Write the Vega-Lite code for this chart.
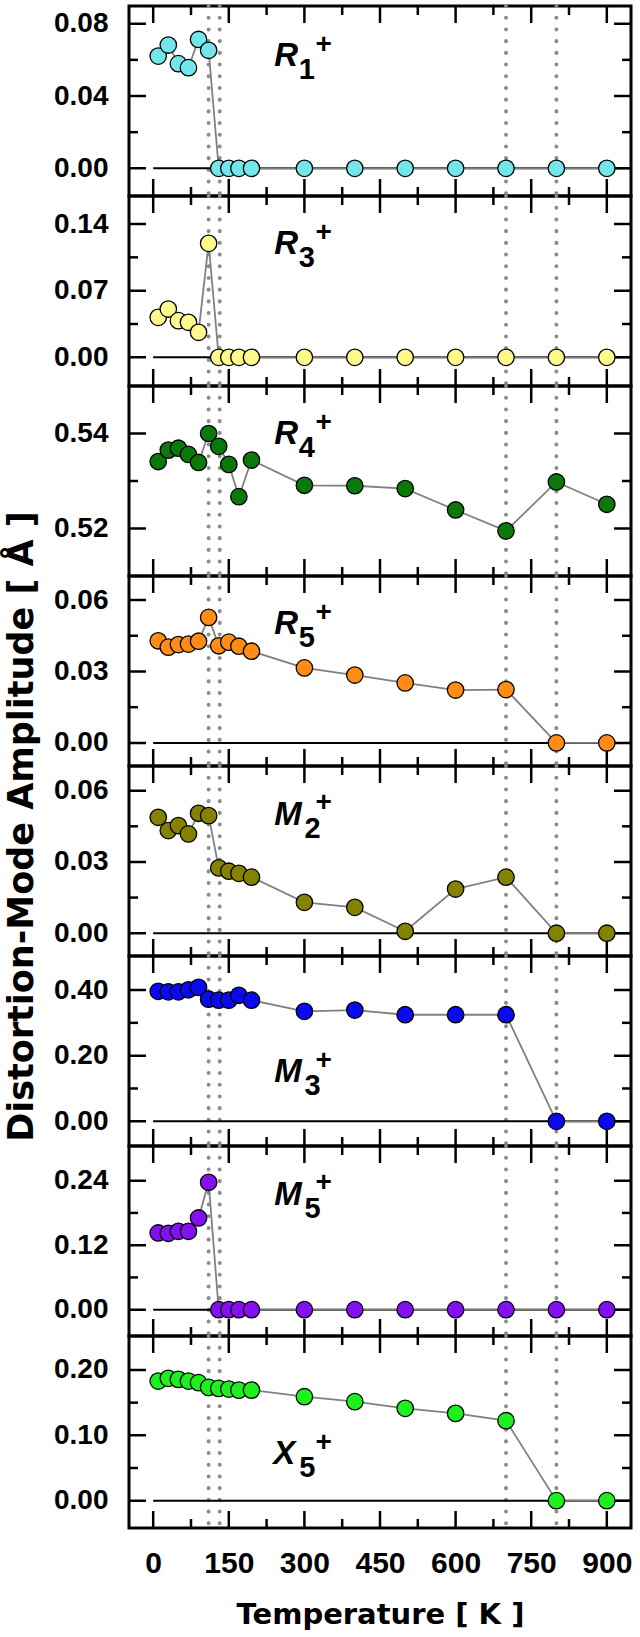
{
  "$schema": "https://vega.github.io/schema/vega-lite/v6.json",
  "padding": {"left": 5, "top": 2, "right": 4, "bottom": 0},
  "title": {"text": "Distortion-Mode Amplitude  [ Å ]", "orient": "left", "anchor": "middle", "fontSize": 35, "font": "DejaVu Sans", "fontWeight": "bold", "color": "black", "offset": 12, "dx": -10},
  "spacing": 0,
  "bounds": "flush",
  "config": {
    "font": "Liberation Sans",
    "view": {"stroke": "black", "strokeWidth": 3},
    "axis": {"domain": false, "ticks": false, "tickSize": 0, "grid": false, "labelFont": "Liberation Sans", "labelFontWeight": "bold", "labelColor": "black", "labelFontSize": 28, "titleFont": "DejaVu Sans", "titleFontWeight": "bold", "titleColor": "black", "titleFontSize": 29, "labelFlush": false, "labelOverlap": false}
  },
  "datasets": {
    "transitions": [{"T": 110}, {"T": 132}, {"T": 700}, {"T": 800}],
    "xticks": [{"T": 0, "kind": "major"}, {"T": 75, "kind": "minor"}, {"T": 150, "kind": "major"}, {"T": 225, "kind": "minor"}, {"T": 300, "kind": "major"}, {"T": 375, "kind": "minor"}, {"T": 450, "kind": "major"}, {"T": 525, "kind": "minor"}, {"T": 600, "kind": "major"}, {"T": 675, "kind": "minor"}, {"T": 750, "kind": "major"}, {"T": 825, "kind": "minor"}, {"T": 900, "kind": "major"}],
    "yticks": [
      {"panel": "R1", "amp": 0, "kind": "major"}, {"panel": "R1", "amp": 0.02, "kind": "minor"}, {"panel": "R1", "amp": 0.04, "kind": "major"}, {"panel": "R1", "amp": 0.06, "kind": "minor"}, {"panel": "R1", "amp": 0.08, "kind": "major"},
      {"panel": "R3", "amp": 0, "kind": "major"}, {"panel": "R3", "amp": 0.035, "kind": "minor"}, {"panel": "R3", "amp": 0.07, "kind": "major"}, {"panel": "R3", "amp": 0.105, "kind": "minor"}, {"panel": "R3", "amp": 0.14, "kind": "major"},
      {"panel": "R4", "amp": 0.52, "kind": "major"}, {"panel": "R4", "amp": 0.53, "kind": "minor"}, {"panel": "R4", "amp": 0.54, "kind": "major"},
      {"panel": "R5", "amp": 0, "kind": "major"}, {"panel": "R5", "amp": 0.015, "kind": "minor"}, {"panel": "R5", "amp": 0.03, "kind": "major"}, {"panel": "R5", "amp": 0.045, "kind": "minor"}, {"panel": "R5", "amp": 0.06, "kind": "major"},
      {"panel": "M2", "amp": 0, "kind": "major"}, {"panel": "M2", "amp": 0.015, "kind": "minor"}, {"panel": "M2", "amp": 0.03, "kind": "major"}, {"panel": "M2", "amp": 0.045, "kind": "minor"}, {"panel": "M2", "amp": 0.06, "kind": "major"},
      {"panel": "M3", "amp": 0, "kind": "major"}, {"panel": "M3", "amp": 0.1, "kind": "minor"}, {"panel": "M3", "amp": 0.2, "kind": "major"}, {"panel": "M3", "amp": 0.3, "kind": "minor"}, {"panel": "M3", "amp": 0.4, "kind": "major"},
      {"panel": "M5", "amp": 0, "kind": "major"}, {"panel": "M5", "amp": 0.06, "kind": "minor"}, {"panel": "M5", "amp": 0.12, "kind": "major"}, {"panel": "M5", "amp": 0.18, "kind": "minor"}, {"panel": "M5", "amp": 0.24, "kind": "major"},
      {"panel": "X5", "amp": 0, "kind": "major"}, {"panel": "X5", "amp": 0.05, "kind": "minor"}, {"panel": "X5", "amp": 0.1, "kind": "major"}, {"panel": "X5", "amp": 0.15, "kind": "minor"}, {"panel": "X5", "amp": 0.2, "kind": "major"}
    ],
    "modes": [
      {"mode": "R1", "T": 10, "amp": 0.0621}, {"mode": "R1", "T": 30, "amp": 0.0682}, {"mode": "R1", "T": 50, "amp": 0.0579}, {"mode": "R1", "T": 70, "amp": 0.0557}, {"mode": "R1", "T": 90, "amp": 0.0713}, {"mode": "R1", "T": 110, "amp": 0.0653}, {"mode": "R1", "T": 130, "amp": 0}, {"mode": "R1", "T": 150, "amp": 0}, {"mode": "R1", "T": 170, "amp": 0}, {"mode": "R1", "T": 195, "amp": 0}, {"mode": "R1", "T": 300, "amp": 0}, {"mode": "R1", "T": 400, "amp": 0}, {"mode": "R1", "T": 500, "amp": 0}, {"mode": "R1", "T": 600, "amp": 0}, {"mode": "R1", "T": 700, "amp": 0}, {"mode": "R1", "T": 800, "amp": 0}, {"mode": "R1", "T": 900, "amp": 0},
      {"mode": "R3", "T": 10, "amp": 0.042}, {"mode": "R3", "T": 30, "amp": 0.0507}, {"mode": "R3", "T": 50, "amp": 0.0385}, {"mode": "R3", "T": 70, "amp": 0.0368}, {"mode": "R3", "T": 90, "amp": 0.0263}, {"mode": "R3", "T": 110, "amp": 0.1197}, {"mode": "R3", "T": 130, "amp": 0}, {"mode": "R3", "T": 150, "amp": 0}, {"mode": "R3", "T": 170, "amp": 0}, {"mode": "R3", "T": 195, "amp": 0}, {"mode": "R3", "T": 300, "amp": 0}, {"mode": "R3", "T": 400, "amp": 0}, {"mode": "R3", "T": 500, "amp": 0}, {"mode": "R3", "T": 600, "amp": 0}, {"mode": "R3", "T": 700, "amp": 0}, {"mode": "R3", "T": 800, "amp": 0}, {"mode": "R3", "T": 900, "amp": 0},
      {"mode": "R4", "T": 10, "amp": 0.5341}, {"mode": "R4", "T": 30, "amp": 0.5365}, {"mode": "R4", "T": 50, "amp": 0.5369}, {"mode": "R4", "T": 70, "amp": 0.5356}, {"mode": "R4", "T": 90, "amp": 0.5339}, {"mode": "R4", "T": 110, "amp": 0.54}, {"mode": "R4", "T": 130, "amp": 0.5373}, {"mode": "R4", "T": 150, "amp": 0.5335}, {"mode": "R4", "T": 170, "amp": 0.5267}, {"mode": "R4", "T": 195, "amp": 0.5344}, {"mode": "R4", "T": 300, "amp": 0.5291}, {"mode": "R4", "T": 400, "amp": 0.529}, {"mode": "R4", "T": 500, "amp": 0.5284}, {"mode": "R4", "T": 600, "amp": 0.5239}, {"mode": "R4", "T": 700, "amp": 0.5195}, {"mode": "R4", "T": 800, "amp": 0.5298}, {"mode": "R4", "T": 900, "amp": 0.5251},
      {"mode": "R5", "T": 10, "amp": 0.0429}, {"mode": "R5", "T": 30, "amp": 0.0402}, {"mode": "R5", "T": 50, "amp": 0.0413}, {"mode": "R5", "T": 70, "amp": 0.0415}, {"mode": "R5", "T": 90, "amp": 0.0427}, {"mode": "R5", "T": 110, "amp": 0.0527}, {"mode": "R5", "T": 130, "amp": 0.0408}, {"mode": "R5", "T": 150, "amp": 0.0423}, {"mode": "R5", "T": 170, "amp": 0.0406}, {"mode": "R5", "T": 195, "amp": 0.0385}, {"mode": "R5", "T": 300, "amp": 0.0315}, {"mode": "R5", "T": 400, "amp": 0.0285}, {"mode": "R5", "T": 500, "amp": 0.0252}, {"mode": "R5", "T": 600, "amp": 0.0222}, {"mode": "R5", "T": 700, "amp": 0.0224}, {"mode": "R5", "T": 800, "amp": 0}, {"mode": "R5", "T": 900, "amp": 0},
      {"mode": "M2", "T": 10, "amp": 0.0488}, {"mode": "M2", "T": 30, "amp": 0.0432}, {"mode": "M2", "T": 50, "amp": 0.0453}, {"mode": "M2", "T": 70, "amp": 0.0418}, {"mode": "M2", "T": 90, "amp": 0.0505}, {"mode": "M2", "T": 110, "amp": 0.0495}, {"mode": "M2", "T": 130, "amp": 0.0275}, {"mode": "M2", "T": 150, "amp": 0.0261}, {"mode": "M2", "T": 170, "amp": 0.0252}, {"mode": "M2", "T": 195, "amp": 0.0236}, {"mode": "M2", "T": 300, "amp": 0.013}, {"mode": "M2", "T": 400, "amp": 0.0109}, {"mode": "M2", "T": 500, "amp": 0.0008}, {"mode": "M2", "T": 600, "amp": 0.0186}, {"mode": "M2", "T": 700, "amp": 0.0236}, {"mode": "M2", "T": 800, "amp": 0}, {"mode": "M2", "T": 900, "amp": 0},
      {"mode": "M3", "T": 10, "amp": 0.396}, {"mode": "M3", "T": 30, "amp": 0.3945}, {"mode": "M3", "T": 50, "amp": 0.3945}, {"mode": "M3", "T": 70, "amp": 0.4006}, {"mode": "M3", "T": 90, "amp": 0.408}, {"mode": "M3", "T": 110, "amp": 0.372}, {"mode": "M3", "T": 130, "amp": 0.369}, {"mode": "M3", "T": 150, "amp": 0.369}, {"mode": "M3", "T": 170, "amp": 0.384}, {"mode": "M3", "T": 195, "amp": 0.369}, {"mode": "M3", "T": 300, "amp": 0.335}, {"mode": "M3", "T": 400, "amp": 0.339}, {"mode": "M3", "T": 500, "amp": 0.3247}, {"mode": "M3", "T": 600, "amp": 0.3247}, {"mode": "M3", "T": 700, "amp": 0.3247}, {"mode": "M3", "T": 800, "amp": 0}, {"mode": "M3", "T": 900, "amp": 0},
      {"mode": "M5", "T": 10, "amp": 0.1427}, {"mode": "M5", "T": 30, "amp": 0.1421}, {"mode": "M5", "T": 50, "amp": 0.1458}, {"mode": "M5", "T": 70, "amp": 0.1458}, {"mode": "M5", "T": 90, "amp": 0.1706}, {"mode": "M5", "T": 110, "amp": 0.237}, {"mode": "M5", "T": 130, "amp": 0}, {"mode": "M5", "T": 150, "amp": 0}, {"mode": "M5", "T": 170, "amp": 0}, {"mode": "M5", "T": 195, "amp": 0}, {"mode": "M5", "T": 300, "amp": 0}, {"mode": "M5", "T": 400, "amp": 0}, {"mode": "M5", "T": 500, "amp": 0}, {"mode": "M5", "T": 600, "amp": 0}, {"mode": "M5", "T": 700, "amp": 0}, {"mode": "M5", "T": 800, "amp": 0}, {"mode": "M5", "T": 900, "amp": 0},
      {"mode": "X5", "T": 10, "amp": 0.183}, {"mode": "X5", "T": 30, "amp": 0.1872}, {"mode": "X5", "T": 50, "amp": 0.1856}, {"mode": "X5", "T": 70, "amp": 0.183}, {"mode": "X5", "T": 90, "amp": 0.1806}, {"mode": "X5", "T": 110, "amp": 0.1734}, {"mode": "X5", "T": 130, "amp": 0.1718}, {"mode": "X5", "T": 150, "amp": 0.1708}, {"mode": "X5", "T": 170, "amp": 0.1692}, {"mode": "X5", "T": 195, "amp": 0.1692}, {"mode": "X5", "T": 300, "amp": 0.1591}, {"mode": "X5", "T": 400, "amp": 0.1515}, {"mode": "X5", "T": 500, "amp": 0.1413}, {"mode": "X5", "T": 600, "amp": 0.1336}, {"mode": "X5", "T": 700, "amp": 0.1224}, {"mode": "X5", "T": 800, "amp": 0}, {"mode": "X5", "T": 900, "amp": 0}
    ]
  },
  "vconcat": [
    {
      "width": 502, "height": 190,
      "resolve": {"axis": {"x": "independent", "y": "independent"}},
      "layer": [
        {"data": {"name": "xticks"}, "mark": {"type": "tick", "orient": "vertical", "thickness": 2.5, "color": "black", "opacity": 1, "clip": true},
         "encoding": {"x": {"field": "T", "type": "quantitative", "scale": {"domain": [-48, 948], "nice": false, "zero": false}, "axis": null}, "y": {"datum": -0.0153, "axis": null}, "size": {"field": "kind", "type": "ordinal", "scale": {"domain": ["major", "minor"], "range": [34, 18]}, "legend": null}}},
        {"data": {"name": "xticks"}, "mark": {"type": "tick", "orient": "vertical", "thickness": 2.5, "color": "black", "opacity": 1, "clip": true},
         "encoding": {"x": {"field": "T", "type": "quantitative", "axis": null}, "y": {"datum": 0.0898, "axis": null}, "size": {"field": "kind", "type": "ordinal", "scale": {"domain": ["major", "minor"], "range": [34, 18]}, "legend": null}}},
        {"data": {"name": "yticks"}, "transform": [{"filter": "datum.panel === 'R1'"}], "mark": {"type": "tick", "orient": "horizontal", "thickness": 2.5, "color": "black", "opacity": 1, "clip": true},
         "encoding": {"y": {"field": "amp", "type": "quantitative", "axis": null}, "x": {"datum": -48, "axis": null}, "size": {"field": "kind", "type": "ordinal", "scale": {"domain": ["major", "minor"], "range": [34, 18]}, "legend": null}}},
        {"data": {"name": "yticks"}, "transform": [{"filter": "datum.panel === 'R1'"}], "mark": {"type": "tick", "orient": "horizontal", "thickness": 2.5, "color": "black", "opacity": 1, "clip": true},
         "encoding": {"y": {"field": "amp", "type": "quantitative", "axis": null}, "x": {"datum": 948, "axis": null}, "size": {"field": "kind", "type": "ordinal", "scale": {"domain": ["major", "minor"], "range": [34, 18]}, "legend": null}}},
        {"data": {"name": "transitions"}, "mark": {"type": "rule", "color": "#8c8c8c", "strokeWidth": 4, "strokeDash": [0.1, 11.6], "strokeCap": "round"},
         "encoding": {"x": {"field": "T", "type": "quantitative", "axis": null}}},
        {"data": {"values": [{}]}, "mark": {"type": "rule", "color": "black", "strokeWidth": 2},
         "encoding": {"x": {"datum": 0, "axis": null}, "x2": {"datum": 948}, "y": {"datum": 0, "axis": null}}},
        {"data": {"name": "modes"}, "transform": [{"filter": "datum.mode === 'R1'"}], "mark": {"type": "line", "color": "#808080", "strokeWidth": 1.8},
         "encoding": {"x": {"field": "T", "type": "quantitative", "axis": null}, "y": {"field": "amp", "type": "quantitative", "scale": {"domain": [-0.0153, 0.0898], "nice": false, "zero": false}, "axis": null}}},
        {"data": {"name": "modes"}, "transform": [{"filter": "datum.mode === 'R1'"}], "mark": {"type": "circle", "size": 270, "fill": "#73E6EB", "fillOpacity": 1, "opacity": 1, "stroke": "black", "strokeWidth": 1.3},
         "encoding": {"x": {"field": "T", "type": "quantitative", "axis": null},
                      "y": {"field": "amp", "type": "quantitative", "axis": {"orient": "left", "values": [0, 0.04, 0.08], "format": ".2f", "labelPadding": 21, "title": null}}}},
        {"data": {"values": [{}]}, "mark": {"type": "text", "text": "R", "fontSize": 33, "fontWeight": "bold", "fontStyle": "italic", "align": "left", "baseline": "alphabetic", "color": "black"},
         "encoding": {"x": {"datum": 240, "axis": null}, "y": {"datum": 0.0566, "axis": null}}},
        {"data": {"values": [{}]}, "mark": {"type": "text", "text": "1", "fontSize": 29, "fontWeight": "bold", "align": "left", "baseline": "alphabetic", "dy": 13, "color": "black"},
         "encoding": {"x": {"datum": 289, "axis": null}, "y": {"datum": 0.0566, "axis": null}}},
        {"data": {"values": [{}]}, "mark": {"type": "text", "text": "+", "fontSize": 28, "fontWeight": "bold", "align": "left", "baseline": "alphabetic", "dy": -13.5, "color": "black"},
         "encoding": {"x": {"datum": 322, "axis": null}, "y": {"datum": 0.0566, "axis": null}}}
      ]
    },
    {
      "width": 502, "height": 190,
      "resolve": {"axis": {"x": "independent", "y": "independent"}},
      "layer": [
        {"data": {"name": "xticks"}, "mark": {"type": "tick", "orient": "vertical", "thickness": 2.5, "color": "black", "opacity": 1, "clip": true},
         "encoding": {"x": {"field": "T", "type": "quantitative", "scale": {"domain": [-48, 948], "nice": false, "zero": false}, "axis": null}, "y": {"datum": -0.0301, "axis": null}, "size": {"field": "kind", "type": "ordinal", "scale": {"domain": ["major", "minor"], "range": [34, 18]}, "legend": null}}},
        {"data": {"name": "xticks"}, "mark": {"type": "tick", "orient": "vertical", "thickness": 2.5, "color": "black", "opacity": 1, "clip": true},
         "encoding": {"x": {"field": "T", "type": "quantitative", "axis": null}, "y": {"datum": 0.1694, "axis": null}, "size": {"field": "kind", "type": "ordinal", "scale": {"domain": ["major", "minor"], "range": [34, 18]}, "legend": null}}},
        {"data": {"name": "yticks"}, "transform": [{"filter": "datum.panel === 'R3'"}], "mark": {"type": "tick", "orient": "horizontal", "thickness": 2.5, "color": "black", "opacity": 1, "clip": true},
         "encoding": {"y": {"field": "amp", "type": "quantitative", "axis": null}, "x": {"datum": -48, "axis": null}, "size": {"field": "kind", "type": "ordinal", "scale": {"domain": ["major", "minor"], "range": [34, 18]}, "legend": null}}},
        {"data": {"name": "yticks"}, "transform": [{"filter": "datum.panel === 'R3'"}], "mark": {"type": "tick", "orient": "horizontal", "thickness": 2.5, "color": "black", "opacity": 1, "clip": true},
         "encoding": {"y": {"field": "amp", "type": "quantitative", "axis": null}, "x": {"datum": 948, "axis": null}, "size": {"field": "kind", "type": "ordinal", "scale": {"domain": ["major", "minor"], "range": [34, 18]}, "legend": null}}},
        {"data": {"name": "transitions"}, "mark": {"type": "rule", "color": "#8c8c8c", "strokeWidth": 4, "strokeDash": [0.1, 11.6], "strokeCap": "round"},
         "encoding": {"x": {"field": "T", "type": "quantitative", "axis": null}}},
        {"data": {"values": [{}]}, "mark": {"type": "rule", "color": "black", "strokeWidth": 2},
         "encoding": {"x": {"datum": 0, "axis": null}, "x2": {"datum": 948}, "y": {"datum": 0, "axis": null}}},
        {"data": {"name": "modes"}, "transform": [{"filter": "datum.mode === 'R3'"}], "mark": {"type": "line", "color": "#808080", "strokeWidth": 1.8},
         "encoding": {"x": {"field": "T", "type": "quantitative", "axis": null}, "y": {"field": "amp", "type": "quantitative", "scale": {"domain": [-0.0301, 0.1694], "nice": false, "zero": false}, "axis": null}}},
        {"data": {"name": "modes"}, "transform": [{"filter": "datum.mode === 'R3'"}], "mark": {"type": "circle", "size": 270, "fill": "#FFF98C", "fillOpacity": 1, "opacity": 1, "stroke": "black", "strokeWidth": 1.3},
         "encoding": {"x": {"field": "T", "type": "quantitative", "axis": null},
                      "y": {"field": "amp", "type": "quantitative", "axis": {"orient": "left", "values": [0, 0.07, 0.14], "format": ".2f", "labelPadding": 21, "title": null}}}},
        {"data": {"values": [{}]}, "mark": {"type": "text", "text": "R", "fontSize": 33, "fontWeight": "bold", "fontStyle": "italic", "align": "left", "baseline": "alphabetic", "color": "black"},
         "encoding": {"x": {"datum": 240, "axis": null}, "y": {"datum": 0.1085, "axis": null}}},
        {"data": {"values": [{}]}, "mark": {"type": "text", "text": "3", "fontSize": 29, "fontWeight": "bold", "align": "left", "baseline": "alphabetic", "dy": 13, "color": "black"},
         "encoding": {"x": {"datum": 289, "axis": null}, "y": {"datum": 0.1085, "axis": null}}},
        {"data": {"values": [{}]}, "mark": {"type": "text", "text": "+", "fontSize": 28, "fontWeight": "bold", "align": "left", "baseline": "alphabetic", "dy": -13.5, "color": "black"},
         "encoding": {"x": {"datum": 322, "axis": null}, "y": {"datum": 0.1085, "axis": null}}}
      ]
    },
    {
      "width": 502, "height": 190,
      "resolve": {"axis": {"x": "independent", "y": "independent"}},
      "layer": [
        {"data": {"name": "xticks"}, "mark": {"type": "tick", "orient": "vertical", "thickness": 2.5, "color": "black", "opacity": 1, "clip": true},
         "encoding": {"x": {"field": "T", "type": "quantitative", "scale": {"domain": [-48, 948], "nice": false, "zero": false}, "axis": null}, "y": {"datum": 0.51, "axis": null}, "size": {"field": "kind", "type": "ordinal", "scale": {"domain": ["major", "minor"], "range": [34, 18]}, "legend": null}}},
        {"data": {"name": "xticks"}, "mark": {"type": "tick", "orient": "vertical", "thickness": 2.5, "color": "black", "opacity": 1, "clip": true},
         "encoding": {"x": {"field": "T", "type": "quantitative", "axis": null}, "y": {"datum": 0.55, "axis": null}, "size": {"field": "kind", "type": "ordinal", "scale": {"domain": ["major", "minor"], "range": [34, 18]}, "legend": null}}},
        {"data": {"name": "yticks"}, "transform": [{"filter": "datum.panel === 'R4'"}], "mark": {"type": "tick", "orient": "horizontal", "thickness": 2.5, "color": "black", "opacity": 1, "clip": true},
         "encoding": {"y": {"field": "amp", "type": "quantitative", "axis": null}, "x": {"datum": -48, "axis": null}, "size": {"field": "kind", "type": "ordinal", "scale": {"domain": ["major", "minor"], "range": [34, 18]}, "legend": null}}},
        {"data": {"name": "yticks"}, "transform": [{"filter": "datum.panel === 'R4'"}], "mark": {"type": "tick", "orient": "horizontal", "thickness": 2.5, "color": "black", "opacity": 1, "clip": true},
         "encoding": {"y": {"field": "amp", "type": "quantitative", "axis": null}, "x": {"datum": 948, "axis": null}, "size": {"field": "kind", "type": "ordinal", "scale": {"domain": ["major", "minor"], "range": [34, 18]}, "legend": null}}},
        {"data": {"name": "transitions"}, "mark": {"type": "rule", "color": "#8c8c8c", "strokeWidth": 4, "strokeDash": [0.1, 11.6], "strokeCap": "round"},
         "encoding": {"x": {"field": "T", "type": "quantitative", "axis": null}}},
        {"data": {"name": "modes"}, "transform": [{"filter": "datum.mode === 'R4'"}], "mark": {"type": "line", "color": "#808080", "strokeWidth": 1.8},
         "encoding": {"x": {"field": "T", "type": "quantitative", "axis": null}, "y": {"field": "amp", "type": "quantitative", "scale": {"domain": [0.51, 0.55], "nice": false, "zero": false}, "axis": null}}},
        {"data": {"name": "modes"}, "transform": [{"filter": "datum.mode === 'R4'"}], "mark": {"type": "circle", "size": 270, "fill": "#0A780A", "fillOpacity": 1, "opacity": 1, "stroke": "black", "strokeWidth": 1.3},
         "encoding": {"x": {"field": "T", "type": "quantitative", "axis": null},
                      "y": {"field": "amp", "type": "quantitative", "axis": {"orient": "left", "values": [0.52, 0.54], "format": ".2f", "labelPadding": 21, "title": null}}}},
        {"data": {"values": [{}]}, "mark": {"type": "text", "text": "R", "fontSize": 33, "fontWeight": "bold", "fontStyle": "italic", "align": "left", "baseline": "alphabetic", "color": "black"},
         "encoding": {"x": {"datum": 240, "axis": null}, "y": {"datum": 0.5377, "axis": null}}},
        {"data": {"values": [{}]}, "mark": {"type": "text", "text": "4", "fontSize": 29, "fontWeight": "bold", "align": "left", "baseline": "alphabetic", "dy": 13, "color": "black"},
         "encoding": {"x": {"datum": 289, "axis": null}, "y": {"datum": 0.5377, "axis": null}}},
        {"data": {"values": [{}]}, "mark": {"type": "text", "text": "+", "fontSize": 28, "fontWeight": "bold", "align": "left", "baseline": "alphabetic", "dy": -13.5, "color": "black"},
         "encoding": {"x": {"datum": 322, "axis": null}, "y": {"datum": 0.5377, "axis": null}}}
      ]
    },
    {
      "width": 502, "height": 190,
      "resolve": {"axis": {"x": "independent", "y": "independent"}},
      "layer": [
        {"data": {"name": "xticks"}, "mark": {"type": "tick", "orient": "vertical", "thickness": 2.5, "color": "black", "opacity": 1, "clip": true},
         "encoding": {"x": {"field": "T", "type": "quantitative", "scale": {"domain": [-48, 948], "nice": false, "zero": false}, "axis": null}, "y": {"datum": -0.0097, "axis": null}, "size": {"field": "kind", "type": "ordinal", "scale": {"domain": ["major", "minor"], "range": [34, 18]}, "legend": null}}},
        {"data": {"name": "xticks"}, "mark": {"type": "tick", "orient": "vertical", "thickness": 2.5, "color": "black", "opacity": 1, "clip": true},
         "encoding": {"x": {"field": "T", "type": "quantitative", "axis": null}, "y": {"datum": 0.0701, "axis": null}, "size": {"field": "kind", "type": "ordinal", "scale": {"domain": ["major", "minor"], "range": [34, 18]}, "legend": null}}},
        {"data": {"name": "yticks"}, "transform": [{"filter": "datum.panel === 'R5'"}], "mark": {"type": "tick", "orient": "horizontal", "thickness": 2.5, "color": "black", "opacity": 1, "clip": true},
         "encoding": {"y": {"field": "amp", "type": "quantitative", "axis": null}, "x": {"datum": -48, "axis": null}, "size": {"field": "kind", "type": "ordinal", "scale": {"domain": ["major", "minor"], "range": [34, 18]}, "legend": null}}},
        {"data": {"name": "yticks"}, "transform": [{"filter": "datum.panel === 'R5'"}], "mark": {"type": "tick", "orient": "horizontal", "thickness": 2.5, "color": "black", "opacity": 1, "clip": true},
         "encoding": {"y": {"field": "amp", "type": "quantitative", "axis": null}, "x": {"datum": 948, "axis": null}, "size": {"field": "kind", "type": "ordinal", "scale": {"domain": ["major", "minor"], "range": [34, 18]}, "legend": null}}},
        {"data": {"name": "transitions"}, "mark": {"type": "rule", "color": "#8c8c8c", "strokeWidth": 4, "strokeDash": [0.1, 11.6], "strokeCap": "round"},
         "encoding": {"x": {"field": "T", "type": "quantitative", "axis": null}}},
        {"data": {"values": [{}]}, "mark": {"type": "rule", "color": "black", "strokeWidth": 2},
         "encoding": {"x": {"datum": 0, "axis": null}, "x2": {"datum": 948}, "y": {"datum": 0, "axis": null}}},
        {"data": {"name": "modes"}, "transform": [{"filter": "datum.mode === 'R5'"}], "mark": {"type": "line", "color": "#808080", "strokeWidth": 1.8},
         "encoding": {"x": {"field": "T", "type": "quantitative", "axis": null}, "y": {"field": "amp", "type": "quantitative", "scale": {"domain": [-0.0097, 0.0701], "nice": false, "zero": false}, "axis": null}}},
        {"data": {"name": "modes"}, "transform": [{"filter": "datum.mode === 'R5'"}], "mark": {"type": "circle", "size": 270, "fill": "#FF8C14", "fillOpacity": 1, "opacity": 1, "stroke": "black", "strokeWidth": 1.3},
         "encoding": {"x": {"field": "T", "type": "quantitative", "axis": null},
                      "y": {"field": "amp", "type": "quantitative", "axis": {"orient": "left", "values": [0, 0.03, 0.06], "format": ".2f", "labelPadding": 21, "title": null}}}},
        {"data": {"values": [{}]}, "mark": {"type": "text", "text": "R", "fontSize": 33, "fontWeight": "bold", "fontStyle": "italic", "align": "left", "baseline": "alphabetic", "color": "black"},
         "encoding": {"x": {"datum": 240, "axis": null}, "y": {"datum": 0.0457, "axis": null}}},
        {"data": {"values": [{}]}, "mark": {"type": "text", "text": "5", "fontSize": 29, "fontWeight": "bold", "align": "left", "baseline": "alphabetic", "dy": 13, "color": "black"},
         "encoding": {"x": {"datum": 289, "axis": null}, "y": {"datum": 0.0457, "axis": null}}},
        {"data": {"values": [{}]}, "mark": {"type": "text", "text": "+", "fontSize": 28, "fontWeight": "bold", "align": "left", "baseline": "alphabetic", "dy": -13.5, "color": "black"},
         "encoding": {"x": {"datum": 322, "axis": null}, "y": {"datum": 0.0457, "axis": null}}}
      ]
    },
    {
      "width": 502, "height": 190,
      "resolve": {"axis": {"x": "independent", "y": "independent"}},
      "layer": [
        {"data": {"name": "xticks"}, "mark": {"type": "tick", "orient": "vertical", "thickness": 2.5, "color": "black", "opacity": 1, "clip": true},
         "encoding": {"x": {"field": "T", "type": "quantitative", "scale": {"domain": [-48, 948], "nice": false, "zero": false}, "axis": null}, "y": {"datum": -0.0096, "axis": null}, "size": {"field": "kind", "type": "ordinal", "scale": {"domain": ["major", "minor"], "range": [34, 18]}, "legend": null}}},
        {"data": {"name": "xticks"}, "mark": {"type": "tick", "orient": "vertical", "thickness": 2.5, "color": "black", "opacity": 1, "clip": true},
         "encoding": {"x": {"field": "T", "type": "quantitative", "axis": null}, "y": {"datum": 0.0704, "axis": null}, "size": {"field": "kind", "type": "ordinal", "scale": {"domain": ["major", "minor"], "range": [34, 18]}, "legend": null}}},
        {"data": {"name": "yticks"}, "transform": [{"filter": "datum.panel === 'M2'"}], "mark": {"type": "tick", "orient": "horizontal", "thickness": 2.5, "color": "black", "opacity": 1, "clip": true},
         "encoding": {"y": {"field": "amp", "type": "quantitative", "axis": null}, "x": {"datum": -48, "axis": null}, "size": {"field": "kind", "type": "ordinal", "scale": {"domain": ["major", "minor"], "range": [34, 18]}, "legend": null}}},
        {"data": {"name": "yticks"}, "transform": [{"filter": "datum.panel === 'M2'"}], "mark": {"type": "tick", "orient": "horizontal", "thickness": 2.5, "color": "black", "opacity": 1, "clip": true},
         "encoding": {"y": {"field": "amp", "type": "quantitative", "axis": null}, "x": {"datum": 948, "axis": null}, "size": {"field": "kind", "type": "ordinal", "scale": {"domain": ["major", "minor"], "range": [34, 18]}, "legend": null}}},
        {"data": {"name": "transitions"}, "mark": {"type": "rule", "color": "#8c8c8c", "strokeWidth": 4, "strokeDash": [0.1, 11.6], "strokeCap": "round"},
         "encoding": {"x": {"field": "T", "type": "quantitative", "axis": null}}},
        {"data": {"values": [{}]}, "mark": {"type": "rule", "color": "black", "strokeWidth": 2},
         "encoding": {"x": {"datum": 0, "axis": null}, "x2": {"datum": 948}, "y": {"datum": 0, "axis": null}}},
        {"data": {"name": "modes"}, "transform": [{"filter": "datum.mode === 'M2'"}], "mark": {"type": "line", "color": "#808080", "strokeWidth": 1.8},
         "encoding": {"x": {"field": "T", "type": "quantitative", "axis": null}, "y": {"field": "amp", "type": "quantitative", "scale": {"domain": [-0.0096, 0.0704], "nice": false, "zero": false}, "axis": null}}},
        {"data": {"name": "modes"}, "transform": [{"filter": "datum.mode === 'M2'"}], "mark": {"type": "circle", "size": 270, "fill": "#858200", "fillOpacity": 1, "opacity": 1, "stroke": "black", "strokeWidth": 1.3},
         "encoding": {"x": {"field": "T", "type": "quantitative", "axis": null},
                      "y": {"field": "amp", "type": "quantitative", "axis": {"orient": "left", "values": [0, 0.03, 0.06], "format": ".2f", "labelPadding": 21, "title": null}}}},
        {"data": {"values": [{}]}, "mark": {"type": "text", "text": "M", "fontSize": 33, "fontWeight": "bold", "fontStyle": "italic", "align": "left", "baseline": "alphabetic", "color": "black"},
         "encoding": {"x": {"datum": 240, "axis": null}, "y": {"datum": 0.0456, "axis": null}}},
        {"data": {"values": [{}]}, "mark": {"type": "text", "text": "2", "fontSize": 29, "fontWeight": "bold", "align": "left", "baseline": "alphabetic", "dy": 13, "color": "black"},
         "encoding": {"x": {"datum": 300, "axis": null}, "y": {"datum": 0.0456, "axis": null}}},
        {"data": {"values": [{}]}, "mark": {"type": "text", "text": "+", "fontSize": 28, "fontWeight": "bold", "align": "left", "baseline": "alphabetic", "dy": -13.5, "color": "black"},
         "encoding": {"x": {"datum": 322, "axis": null}, "y": {"datum": 0.0456, "axis": null}}}
      ]
    },
    {
      "width": 502, "height": 190,
      "resolve": {"axis": {"x": "independent", "y": "independent"}},
      "layer": [
        {"data": {"name": "xticks"}, "mark": {"type": "tick", "orient": "vertical", "thickness": 2.5, "color": "black", "opacity": 1, "clip": true},
         "encoding": {"x": {"field": "T", "type": "quantitative", "scale": {"domain": [-48, 948], "nice": false, "zero": false}, "axis": null}, "y": {"datum": -0.0752, "axis": null}, "size": {"field": "kind", "type": "ordinal", "scale": {"domain": ["major", "minor"], "range": [34, 18]}, "legend": null}}},
        {"data": {"name": "xticks"}, "mark": {"type": "tick", "orient": "vertical", "thickness": 2.5, "color": "black", "opacity": 1, "clip": true},
         "encoding": {"x": {"field": "T", "type": "quantitative", "axis": null}, "y": {"datum": 0.5036, "axis": null}, "size": {"field": "kind", "type": "ordinal", "scale": {"domain": ["major", "minor"], "range": [34, 18]}, "legend": null}}},
        {"data": {"name": "yticks"}, "transform": [{"filter": "datum.panel === 'M3'"}], "mark": {"type": "tick", "orient": "horizontal", "thickness": 2.5, "color": "black", "opacity": 1, "clip": true},
         "encoding": {"y": {"field": "amp", "type": "quantitative", "axis": null}, "x": {"datum": -48, "axis": null}, "size": {"field": "kind", "type": "ordinal", "scale": {"domain": ["major", "minor"], "range": [34, 18]}, "legend": null}}},
        {"data": {"name": "yticks"}, "transform": [{"filter": "datum.panel === 'M3'"}], "mark": {"type": "tick", "orient": "horizontal", "thickness": 2.5, "color": "black", "opacity": 1, "clip": true},
         "encoding": {"y": {"field": "amp", "type": "quantitative", "axis": null}, "x": {"datum": 948, "axis": null}, "size": {"field": "kind", "type": "ordinal", "scale": {"domain": ["major", "minor"], "range": [34, 18]}, "legend": null}}},
        {"data": {"name": "transitions"}, "mark": {"type": "rule", "color": "#8c8c8c", "strokeWidth": 4, "strokeDash": [0.1, 11.6], "strokeCap": "round"},
         "encoding": {"x": {"field": "T", "type": "quantitative", "axis": null}}},
        {"data": {"values": [{}]}, "mark": {"type": "rule", "color": "black", "strokeWidth": 2},
         "encoding": {"x": {"datum": 0, "axis": null}, "x2": {"datum": 948}, "y": {"datum": 0, "axis": null}}},
        {"data": {"name": "modes"}, "transform": [{"filter": "datum.mode === 'M3'"}], "mark": {"type": "line", "color": "#808080", "strokeWidth": 1.8},
         "encoding": {"x": {"field": "T", "type": "quantitative", "axis": null}, "y": {"field": "amp", "type": "quantitative", "scale": {"domain": [-0.0752, 0.5036], "nice": false, "zero": false}, "axis": null}}},
        {"data": {"name": "modes"}, "transform": [{"filter": "datum.mode === 'M3'"}], "mark": {"type": "circle", "size": 270, "fill": "#0A0AF0", "fillOpacity": 1, "opacity": 1, "stroke": "black", "strokeWidth": 1.3},
         "encoding": {"x": {"field": "T", "type": "quantitative", "axis": null},
                      "y": {"field": "amp", "type": "quantitative", "axis": {"orient": "left", "values": [0, 0.2, 0.4], "format": ".2f", "labelPadding": 21, "title": null}}}},
        {"data": {"values": [{}]}, "mark": {"type": "text", "text": "M", "fontSize": 33, "fontWeight": "bold", "fontStyle": "italic", "align": "left", "baseline": "alphabetic", "color": "black"},
         "encoding": {"x": {"datum": 240, "axis": null}, "y": {"datum": 0.1196, "axis": null}}},
        {"data": {"values": [{}]}, "mark": {"type": "text", "text": "3", "fontSize": 29, "fontWeight": "bold", "align": "left", "baseline": "alphabetic", "dy": 13, "color": "black"},
         "encoding": {"x": {"datum": 300, "axis": null}, "y": {"datum": 0.1196, "axis": null}}},
        {"data": {"values": [{}]}, "mark": {"type": "text", "text": "+", "fontSize": 28, "fontWeight": "bold", "align": "left", "baseline": "alphabetic", "dy": -13.5, "color": "black"},
         "encoding": {"x": {"datum": 322, "axis": null}, "y": {"datum": 0.1196, "axis": null}}}
      ]
    },
    {
      "width": 502, "height": 190,
      "resolve": {"axis": {"x": "independent", "y": "independent"}},
      "layer": [
        {"data": {"name": "xticks"}, "mark": {"type": "tick", "orient": "vertical", "thickness": 2.5, "color": "black", "opacity": 1, "clip": true},
         "encoding": {"x": {"field": "T", "type": "quantitative", "scale": {"domain": [-48, 948], "nice": false, "zero": false}, "axis": null}, "y": {"datum": -0.049, "axis": null}, "size": {"field": "kind", "type": "ordinal", "scale": {"domain": ["major", "minor"], "range": [34, 18]}, "legend": null}}},
        {"data": {"name": "xticks"}, "mark": {"type": "tick", "orient": "vertical", "thickness": 2.5, "color": "black", "opacity": 1, "clip": true},
         "encoding": {"x": {"field": "T", "type": "quantitative", "axis": null}, "y": {"datum": 0.3045, "axis": null}, "size": {"field": "kind", "type": "ordinal", "scale": {"domain": ["major", "minor"], "range": [34, 18]}, "legend": null}}},
        {"data": {"name": "yticks"}, "transform": [{"filter": "datum.panel === 'M5'"}], "mark": {"type": "tick", "orient": "horizontal", "thickness": 2.5, "color": "black", "opacity": 1, "clip": true},
         "encoding": {"y": {"field": "amp", "type": "quantitative", "axis": null}, "x": {"datum": -48, "axis": null}, "size": {"field": "kind", "type": "ordinal", "scale": {"domain": ["major", "minor"], "range": [34, 18]}, "legend": null}}},
        {"data": {"name": "yticks"}, "transform": [{"filter": "datum.panel === 'M5'"}], "mark": {"type": "tick", "orient": "horizontal", "thickness": 2.5, "color": "black", "opacity": 1, "clip": true},
         "encoding": {"y": {"field": "amp", "type": "quantitative", "axis": null}, "x": {"datum": 948, "axis": null}, "size": {"field": "kind", "type": "ordinal", "scale": {"domain": ["major", "minor"], "range": [34, 18]}, "legend": null}}},
        {"data": {"name": "transitions"}, "mark": {"type": "rule", "color": "#8c8c8c", "strokeWidth": 4, "strokeDash": [0.1, 11.6], "strokeCap": "round"},
         "encoding": {"x": {"field": "T", "type": "quantitative", "axis": null}}},
        {"data": {"values": [{}]}, "mark": {"type": "rule", "color": "black", "strokeWidth": 2},
         "encoding": {"x": {"datum": 0, "axis": null}, "x2": {"datum": 948}, "y": {"datum": 0, "axis": null}}},
        {"data": {"name": "modes"}, "transform": [{"filter": "datum.mode === 'M5'"}], "mark": {"type": "line", "color": "#808080", "strokeWidth": 1.8},
         "encoding": {"x": {"field": "T", "type": "quantitative", "axis": null}, "y": {"field": "amp", "type": "quantitative", "scale": {"domain": [-0.049, 0.3045], "nice": false, "zero": false}, "axis": null}}},
        {"data": {"name": "modes"}, "transform": [{"filter": "datum.mode === 'M5'"}], "mark": {"type": "circle", "size": 270, "fill": "#8410F0", "fillOpacity": 1, "opacity": 1, "stroke": "black", "strokeWidth": 1.3},
         "encoding": {"x": {"field": "T", "type": "quantitative", "axis": null},
                      "y": {"field": "amp", "type": "quantitative", "axis": {"orient": "left", "values": [0, 0.12, 0.24], "format": ".2f", "labelPadding": 21, "title": null}}}},
        {"data": {"values": [{}]}, "mark": {"type": "text", "text": "M", "fontSize": 33, "fontWeight": "bold", "fontStyle": "italic", "align": "left", "baseline": "alphabetic", "color": "black"},
         "encoding": {"x": {"datum": 240, "axis": null}, "y": {"datum": 0.1948, "axis": null}}},
        {"data": {"values": [{}]}, "mark": {"type": "text", "text": "5", "fontSize": 29, "fontWeight": "bold", "align": "left", "baseline": "alphabetic", "dy": 13, "color": "black"},
         "encoding": {"x": {"datum": 300, "axis": null}, "y": {"datum": 0.1948, "axis": null}}},
        {"data": {"values": [{}]}, "mark": {"type": "text", "text": "+", "fontSize": 28, "fontWeight": "bold", "align": "left", "baseline": "alphabetic", "dy": -13.5, "color": "black"},
         "encoding": {"x": {"datum": 322, "axis": null}, "y": {"datum": 0.1948, "axis": null}}}
      ]
    },
    {
      "width": 502, "height": 192,
      "resolve": {"axis": {"x": "independent", "y": "independent"}},
      "layer": [
        {"data": {"name": "xticks"}, "mark": {"type": "tick", "orient": "vertical", "thickness": 2.5, "color": "black", "opacity": 1, "clip": true},
         "encoding": {"x": {"field": "T", "type": "quantitative", "scale": {"domain": [-48, 948], "nice": false, "zero": false}, "axis": null}, "y": {"datum": -0.0418, "axis": null}, "size": {"field": "kind", "type": "ordinal", "scale": {"domain": ["major", "minor"], "range": [34, 18]}, "legend": null}}},
        {"data": {"name": "xticks"}, "mark": {"type": "tick", "orient": "vertical", "thickness": 2.5, "color": "black", "opacity": 1, "clip": true},
         "encoding": {"x": {"field": "T", "type": "quantitative", "axis": null}, "y": {"datum": 0.2520, "axis": null}, "size": {"field": "kind", "type": "ordinal", "scale": {"domain": ["major", "minor"], "range": [34, 18]}, "legend": null}}},
        {"data": {"name": "yticks"}, "transform": [{"filter": "datum.panel === 'X5'"}], "mark": {"type": "tick", "orient": "horizontal", "thickness": 2.5, "color": "black", "opacity": 1, "clip": true},
         "encoding": {"y": {"field": "amp", "type": "quantitative", "axis": null}, "x": {"datum": -48, "axis": null}, "size": {"field": "kind", "type": "ordinal", "scale": {"domain": ["major", "minor"], "range": [34, 18]}, "legend": null}}},
        {"data": {"name": "yticks"}, "transform": [{"filter": "datum.panel === 'X5'"}], "mark": {"type": "tick", "orient": "horizontal", "thickness": 2.5, "color": "black", "opacity": 1, "clip": true},
         "encoding": {"y": {"field": "amp", "type": "quantitative", "axis": null}, "x": {"datum": 948, "axis": null}, "size": {"field": "kind", "type": "ordinal", "scale": {"domain": ["major", "minor"], "range": [34, 18]}, "legend": null}}},
        {"data": {"name": "transitions"}, "mark": {"type": "rule", "color": "#8c8c8c", "strokeWidth": 4, "strokeDash": [0.1, 11.6], "strokeCap": "round"},
         "encoding": {"x": {"field": "T", "type": "quantitative", "axis": null}}},
        {"data": {"values": [{}]}, "mark": {"type": "rule", "color": "black", "strokeWidth": 2},
         "encoding": {"x": {"datum": 0, "axis": null}, "x2": {"datum": 948}, "y": {"datum": 0, "axis": null}}},
        {"data": {"name": "modes"}, "transform": [{"filter": "datum.mode === 'X5'"}], "mark": {"type": "line", "color": "#808080", "strokeWidth": 1.8},
         "encoding": {"x": {"field": "T", "type": "quantitative", "axis": null}, "y": {"field": "amp", "type": "quantitative", "scale": {"domain": [-0.0418, 0.2520], "nice": false, "zero": false}, "axis": null}}},
        {"data": {"name": "modes"}, "transform": [{"filter": "datum.mode === 'X5'"}], "mark": {"type": "circle", "size": 270, "fill": "#1EF01E", "fillOpacity": 1, "opacity": 1, "stroke": "black", "strokeWidth": 1.3},
         "encoding": {"x": {"field": "T", "type": "quantitative", "axis": {"orient": "bottom", "values": [0, 150, 300, 450, 600, 750, 900], "labelFontSize": 30, "labelPadding": 20, "title": "Temperature  [ K ]", "titlePadding": 22}},
                      "y": {"field": "amp", "type": "quantitative", "axis": {"orient": "left", "values": [0, 0.1, 0.2], "format": ".2f", "labelPadding": 21, "title": null}}}},
        {"data": {"values": [{}]}, "mark": {"type": "text", "text": "X", "fontSize": 33, "fontWeight": "bold", "fontStyle": "italic", "align": "left", "baseline": "alphabetic", "color": "black"},
         "encoding": {"x": {"datum": 238, "axis": null}, "y": {"datum": 0.0555, "axis": null}}},
        {"data": {"values": [{}]}, "mark": {"type": "text", "text": "5", "fontSize": 29, "fontWeight": "bold", "align": "left", "baseline": "alphabetic", "dy": 13, "color": "black"},
         "encoding": {"x": {"datum": 290, "axis": null}, "y": {"datum": 0.0555, "axis": null}}},
        {"data": {"values": [{}]}, "mark": {"type": "text", "text": "+", "fontSize": 28, "fontWeight": "bold", "align": "left", "baseline": "alphabetic", "dy": -13.5, "color": "black"},
         "encoding": {"x": {"datum": 322, "axis": null}, "y": {"datum": 0.0555, "axis": null}}}
      ]
    }
  ]
}
